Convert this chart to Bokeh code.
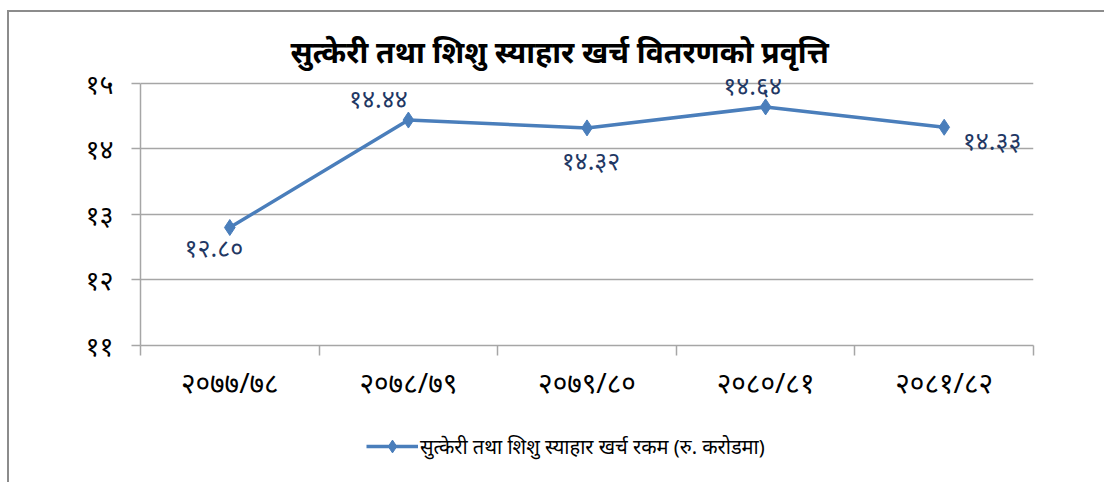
from bokeh.plotting import figure
from bokeh.layouts import column
from bokeh.models import FixedTicker, Range1d, Legend, LegendItem, ColumnDataSource
from bokeh.core.properties import value
from bokeh.embed import file_html
from bokeh.resources import INLINE

# Fiscal years (Bikram Sambat) and spending in crore rupees
years = ["२०७७/७८", "२०७८/७९", "२०७९/८०", "२०८०/८१", "२०८१/८२"]
amounts = [12.80, 14.44, 14.32, 14.64, 14.33]
y_ticks = [11, 12, 13, 14, 15]

title_text = "सुत्केरी तथा शिशु स्याहार खर्च  वितरणको प्रवृत्ति"
series_name = "सुत्केरी तथा शिशु स्याहार खर्च रकम (रु. करोडमा)"

DEV = str.maketrans("0123456789", "०१२३४५६७८९")


def dev(s):
    return str(s).translate(DEV)


FONT = "Noto Sans"
BLUE = "#4a7ebb"
GRID = "#a6a6a6"

xs = [i + 0.5 for i in range(len(years))]
labels = [dev(f"{v:.2f}") for v in amounts]
# pixel offsets of each value label relative to its point
lab_dx = [-16, -30, 4, -13, 48]
lab_dy = [19, -22, 32, -22, 13]

src = ColumnDataSource(dict(x=xs, y=amounts, lab=labels, dx=lab_dx, dy=lab_dy))

# a little headroom above 15 keeps the top value label inside the frame
p = figure(width=1095, height=410, output_backend="svg", toolbar_location=None,
           x_range=Range1d(0, len(years)), y_range=Range1d(11, 15.15),
           min_border_left=131, min_border_right=71, min_border_top=61,
           min_border_bottom=77, outline_line_color=None,
           background_fill_color="white", border_fill_color="white")

p.title.text = title_text
p.title.align = "left"
p.title.text_font = FONT
p.title.text_font_size = "30px"
p.title.text_font_style = "bold"
p.title.text_color = "black"
p.title.offset = 150
p.title.standoff = 4

# x axis: labels centred on categories, ticks on boundaries
xa = p.xaxis[0]
xa.ticker = FixedTicker(ticks=xs, minor_ticks=list(range(len(years) + 1)))
xa.major_label_overrides = {x: y for x, y in zip(xs, years)}
xa.major_tick_out = 0
xa.major_tick_in = 0
xa.minor_tick_out = 10
xa.minor_tick_in = 0
xa.minor_tick_line_color = GRID
xa.axis_line_color = GRID
xa.axis_line_width = 1.5
xa.minor_tick_line_width = 1.5
xa.major_label_text_font = FONT
xa.major_label_text_font_size = "28px"
xa.major_label_text_color = "black"
xa.major_label_standoff = 7

ya = p.yaxis[0]
ya.ticker = FixedTicker(ticks=y_ticks, minor_ticks=[])
ya.major_label_overrides = {t: dev(t) for t in y_ticks}
ya.bounds = (y_ticks[0], y_ticks[-1])
ya.major_tick_out = 9
ya.major_tick_in = 0
ya.major_tick_line_color = GRID
ya.major_tick_line_width = 1.5
ya.axis_line_color = GRID
ya.axis_line_width = 1.5
ya.major_label_text_font = FONT
ya.major_label_text_font_size = "27px"
ya.major_label_text_color = "black"
ya.major_label_standoff = 18

p.xgrid.grid_line_color = None
p.ygrid.grid_line_color = GRID
p.ygrid.grid_line_width = 1.5

p.line("x", "y", source=src, line_color=BLUE, line_width=3.5)
p.scatter("x", "y", source=src, marker="diamond", size=16,
          fill_color=BLUE, line_color=BLUE)
p.text("x", "y", text="lab", source=src, x_offset="dx", y_offset="dy",
       text_align="center", text_baseline="middle",
       text_font=value(FONT), text_font_size="25px", text_color="#1f3864")

# legend strip under the chart (its frame lines up with the chart frame)
key = figure(width=1095, height=60, output_backend="svg", toolbar_location=None,
             x_range=Range1d(0, 1), y_range=Range1d(0, 1),
             x_axis_location=None, y_axis_location=None,
             min_border=0, outline_line_color=None,
             background_fill_color="white", border_fill_color="white")
key.grid.visible = False
blank = ColumnDataSource(dict(x=[float("nan")], y=[float("nan")]))
k_ln = key.line("x", "y", source=blank, line_color=BLUE, line_width=3.5)
k_pt = key.scatter("x", "y", source=blank, marker="diamond", size=13,
                   fill_color=BLUE, line_color=BLUE)
legend = Legend(items=[LegendItem(label=series_name, renderers=[k_ln, k_pt])],
                location=(226, 20), glyph_width=52, glyph_height=32,
                label_standoff=2, padding=0, margin=0,
                label_text_font=FONT, label_text_font_size="20px",
                label_text_color="black", border_line_color=None,
                background_fill_alpha=0)
key.add_layout(legend, "center")

page = column(p, key, spacing=0)
page.styles = {"margin-left": "7px", "margin-top": "10px",
               "border-left": "2px solid #8c8c8c", "border-top": "2px solid #8c8c8c"}

open("out.html", "w").write(file_html(page, INLINE))
